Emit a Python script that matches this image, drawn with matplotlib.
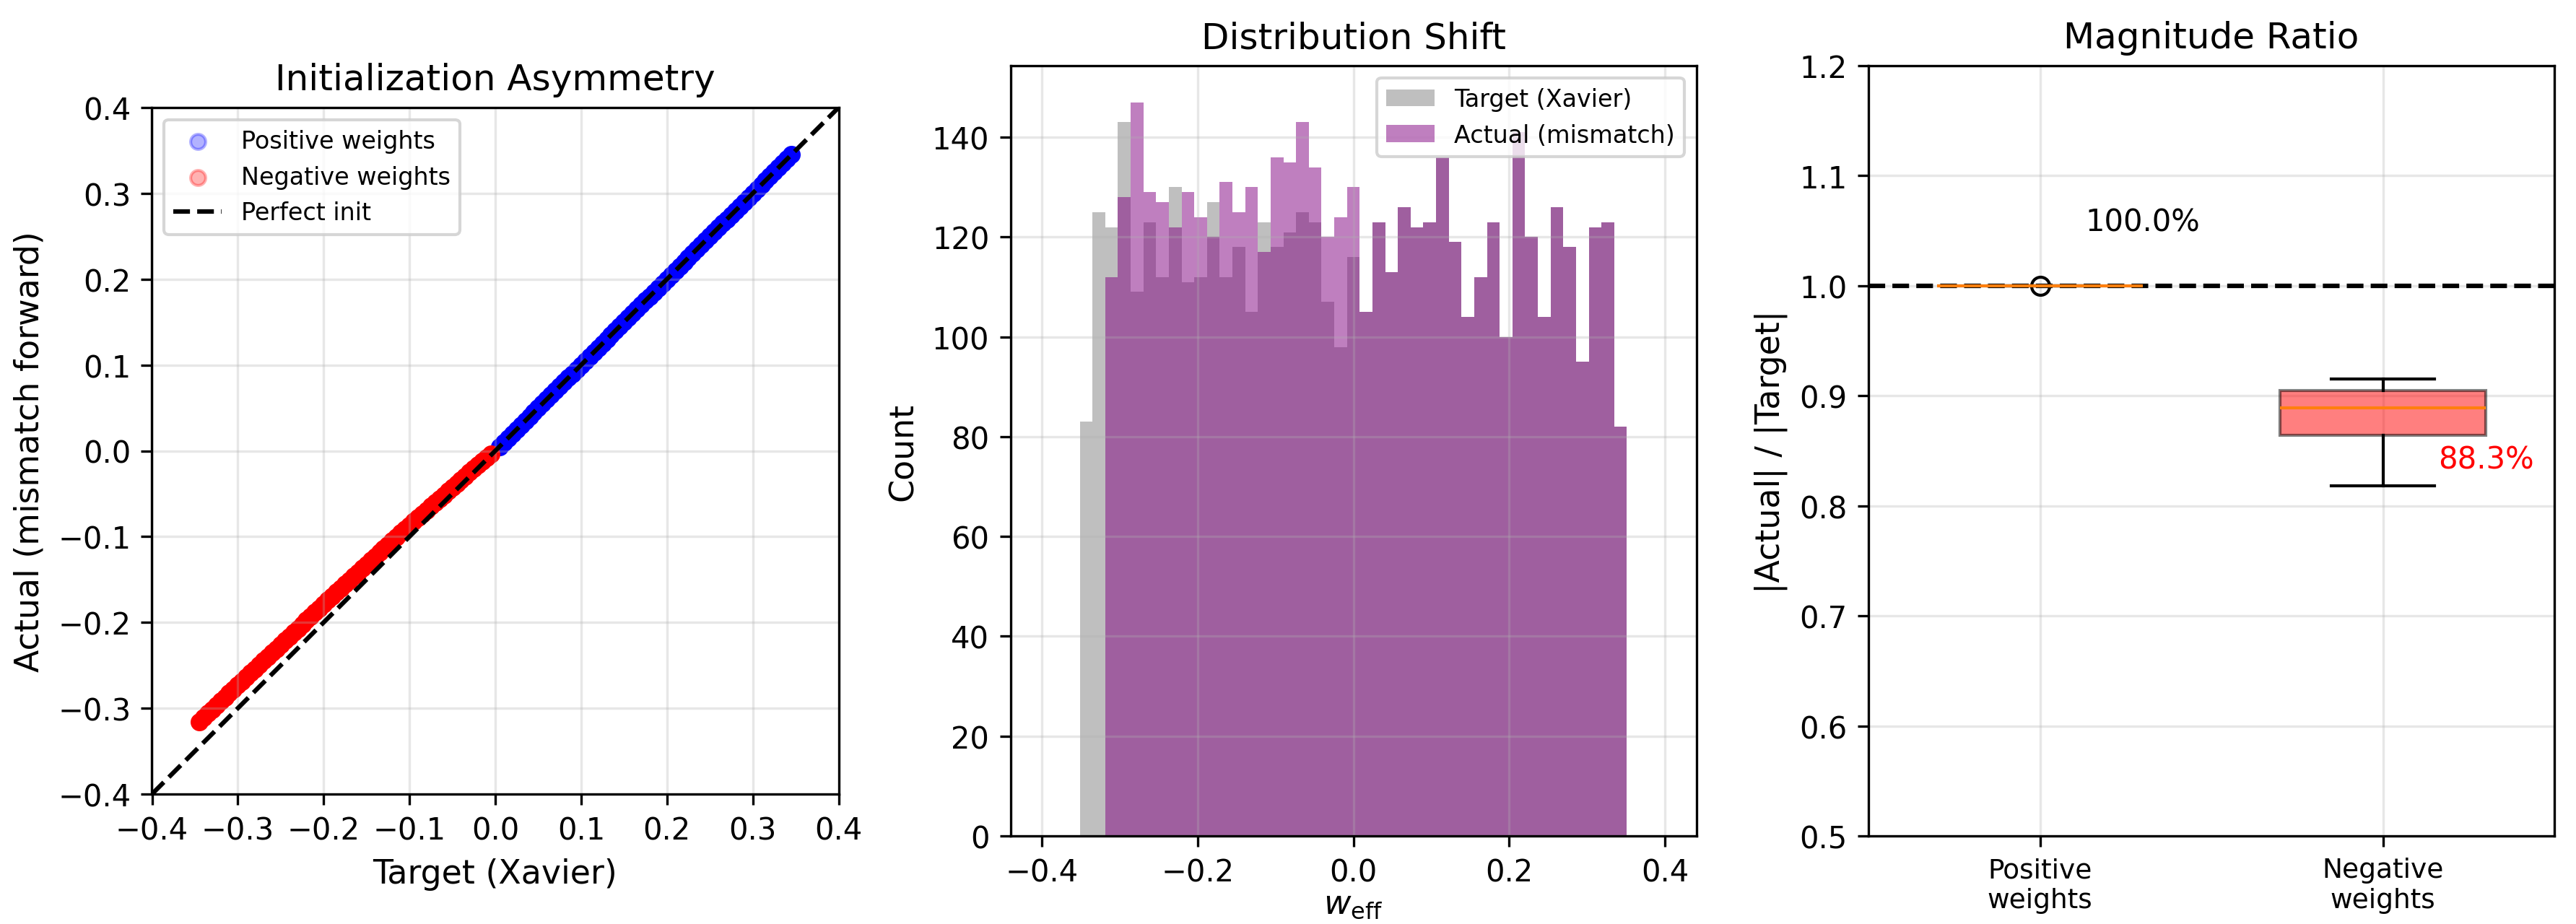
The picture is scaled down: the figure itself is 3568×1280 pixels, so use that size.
import matplotlib
matplotlib.use('Agg')
import matplotlib.pyplot as plt
from matplotlib.ticker import MultipleLocator
import numpy as np

# ---- data ----
axis_range = [-0.4, 0.4]

# scatter: target (Xavier) vs actual (mismatch forward)
pos_target = [0.005, 0.010, 0.015, 0.020, 0.025, 0.030, 0.035, 0.040, 0.045, 0.050,
              0.055, 0.060, 0.065, 0.070, 0.075, 0.080, 0.085, 0.090, 0.095, 0.100,
              0.105, 0.110, 0.115, 0.120, 0.125, 0.130, 0.135, 0.140, 0.145, 0.150,
              0.155, 0.160, 0.165, 0.170, 0.175, 0.180, 0.185, 0.190, 0.195, 0.200,
              0.205, 0.210, 0.215, 0.220, 0.225, 0.230, 0.235, 0.240, 0.245, 0.250,
              0.255, 0.260, 0.265, 0.270, 0.275, 0.280, 0.285, 0.290, 0.295, 0.300,
              0.305, 0.310, 0.315, 0.320, 0.325, 0.330, 0.335, 0.340, 0.345]
pos_actual = list(pos_target)  # positive weights come out exactly on target (ratio 1.0)

neg_target = [-0.345, -0.340, -0.335, -0.330, -0.325, -0.320, -0.315, -0.310, -0.305, -0.300,
              -0.295, -0.290, -0.285, -0.280, -0.275, -0.270, -0.265, -0.260, -0.255, -0.250,
              -0.245, -0.240, -0.235, -0.230, -0.225, -0.220, -0.215, -0.210, -0.205, -0.200,
              -0.195, -0.190, -0.185, -0.180, -0.175, -0.170, -0.165, -0.160, -0.155, -0.150,
              -0.145, -0.140, -0.135, -0.130, -0.125, -0.120, -0.115, -0.110, -0.105, -0.100,
              -0.095, -0.090, -0.085, -0.080, -0.075, -0.070, -0.065, -0.060, -0.055, -0.050,
              -0.045, -0.040, -0.035, -0.030, -0.025, -0.020, -0.015, -0.010, -0.005]
neg_actual = [-0.3157, -0.3108, -0.3062, -0.3013, -0.2967, -0.2918, -0.2873, -0.2824, -0.2779, -0.2730,
              -0.2685, -0.2636, -0.2588, -0.2542, -0.2494, -0.2446, -0.2401, -0.2353, -0.2305, -0.2260,
              -0.2212, -0.2165, -0.2117, -0.2070, -0.2023, -0.1976, -0.1929, -0.1882, -0.1835, -0.1788,
              -0.1741, -0.1695, -0.1648, -0.1602, -0.1556, -0.1510, -0.1462, -0.1416, -0.1369, -0.1323,
              -0.1276, -0.1231, -0.1185, -0.1139, -0.1094, -0.1049, -0.1003, -0.0958, -0.0914, -0.0868,
              -0.0824, -0.0779, -0.0734, -0.0690, -0.0647, -0.0602, -0.0558, -0.0514, -0.0470, -0.0426,
              -0.0383, -0.0339, -0.0295, -0.0252, -0.0210, -0.0167, -0.0125, -0.0083, -0.0041]

# histogram: 49 bins between -0.4 and 0.4
hist_lo, hist_hi, hist_nbins = -0.4, 0.4, 49
target_counts = [0, 0, 0, 83, 125, 122, 143, 109, 123, 112, 130, 111, 112, 127, 112, 118, 105,
                 123, 118, 121, 125, 123, 107, 98, 116,
                 105, 123, 113, 126, 122, 123, 136, 119, 104, 112, 123, 100, 141, 120, 104,
                 126, 118, 95, 122, 123, 82, 0, 0, 0]
actual_counts = [0, 0, 0, 0, 0, 112, 128, 147, 129, 127, 122, 129, 124, 120, 131, 125, 130,
                 117, 136, 135, 143, 134, 120, 124, 130,
                 105, 123, 113, 126, 122, 123, 136, 119, 104, 112, 123, 100, 141, 120, 104,
                 126, 118, 95, 122, 123, 82, 0, 0, 0]

# magnitude ratio box stats
groups = ['Positive\nweights', 'Negative\nweights']
ratio_med = [1.000, 0.889]
ratio_q1 = [1.000, 0.864]
ratio_q3 = [1.000, 0.905]
ratio_lo = [1.000, 0.818]
ratio_hi = [1.000, 0.915]
ratio_fliers = [[1.000], []]
ratio_mean = [1.000, 0.883]
ideal_ratio = 1.0

# ---- figure ----
W, H = 3568, 1281
fig = plt.figure(figsize=(W / 300, H / 300), dpi=300)
ax1 = fig.add_axes([210 / W, 180 / H, 952 / W, 951 / H])
ax2 = fig.add_axes([1399.5 / W, 122 / H, 950 / W, 1067 / H])
ax3 = fig.add_axes([2588 / W, 122 / H, 950 / W, 1067 / H])

# panel 1: scatter
ax1.scatter(pos_target, pos_actual, s=25, color='blue', label='Positive weights')
ax1.scatter(neg_target, neg_actual, s=25, color='red', label='Negative weights')
ax1.plot(axis_range, axis_range, 'k--', lw=1.5, label='Perfect init')
ax1.set_xlim(axis_range)
ax1.set_ylim(axis_range)
ax1.xaxis.set_major_locator(MultipleLocator(0.1))
ax1.yaxis.set_major_locator(MultipleLocator(0.1))
ax1.set_aspect('equal')
ax1.set_xlabel('Target (Xavier)', fontsize=11)
ax1.set_ylabel('Actual (mismatch forward)', fontsize=11)
ax1.set_title('Initialization Asymmetry', fontsize=12)
leg = ax1.legend(loc='upper left', fontsize=8)
for h in leg.legend_handles[:2]:
    h.set_alpha(0.3)
ax1.grid(True, alpha=0.3)

# panel 2: histograms
edges = np.linspace(hist_lo, hist_hi, hist_nbins + 1)
centers = (edges[:-1] + edges[1:]) / 2
ax2.hist(centers, bins=edges, weights=target_counts, color='gray', alpha=0.5, label='Target (Xavier)')
ax2.hist(centers, bins=edges, weights=actual_counts, color='purple', alpha=0.5, label='Actual (mismatch)')
ax2.set_xlabel(r'$w_{\mathrm{eff}}$', fontsize=11, labelpad=0)
ax2.set_ylabel('Count', fontsize=11)
ax2.set_title('Distribution Shift', fontsize=12)
ax2.legend(loc='upper right', fontsize=8)
ax2.grid(True, alpha=0.3)

# panel 3: box plot of ratios
stats = []
for i in range(len(groups)):
    stats.append(dict(med=ratio_med[i], q1=ratio_q1[i], q3=ratio_q3[i],
                      whislo=ratio_lo[i], whishi=ratio_hi[i], fliers=ratio_fliers[i]))
bp = ax3.bxp(stats, positions=[1, 2], widths=0.6, patch_artist=True)
for patch, c in zip(bp['boxes'], ['blue', 'red']):
    patch.set_facecolor(c)
    patch.set_alpha(0.5)
ax3.axhline(ideal_ratio, color='k', ls='--', lw=1.5)
label_y = [1.058, 0.842]
label_c = ['black', 'red']
for i, r in enumerate(ratio_mean):
    ax3.text(i + 1.3, label_y[i], f'{r * 100:.1f}%', ha='center', va='center',
             fontsize=10, color=label_c[i])
ax3.set_xticks([1, 2])
ax3.set_xticklabels(groups, fontsize=9)
ax3.set_xlim(0.5, 2.5)
ax3.set_ylim(0.5, 1.2)
ax3.set_ylabel('|Actual| / |Target|', fontsize=11)
ax3.set_title('Magnitude Ratio', fontsize=12)
ax3.grid(True, alpha=0.3)

fig.savefig('out.png', dpi=300)
